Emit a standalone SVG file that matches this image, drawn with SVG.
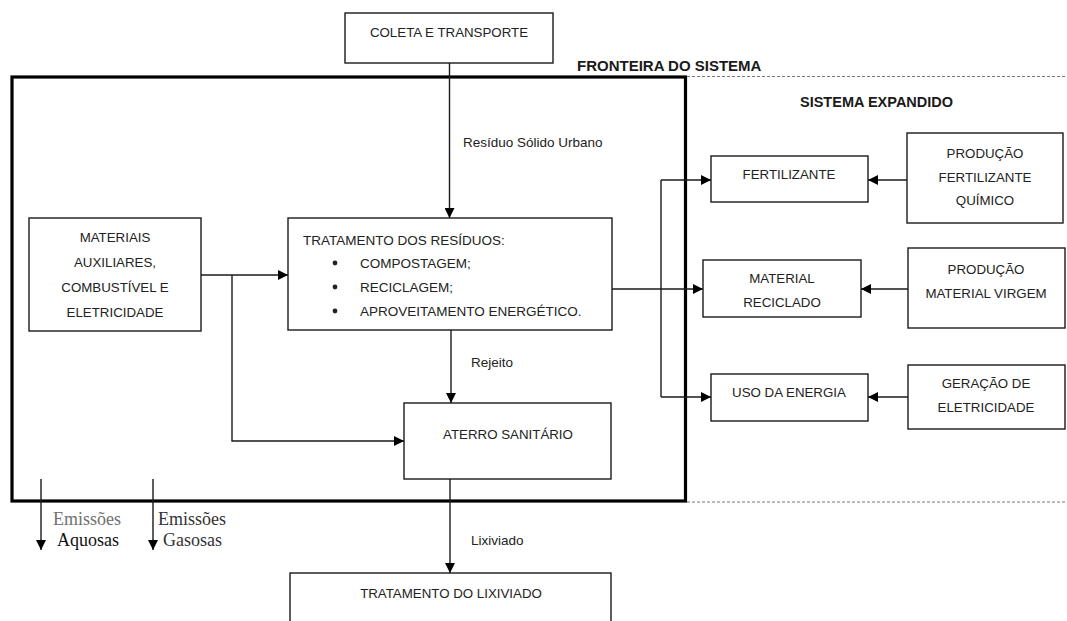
<svg xmlns="http://www.w3.org/2000/svg" width="1067" height="621" viewBox="0 0 1067 621">
  <style>
    .box { fill: #ffffff; stroke: #1a1a1a; stroke-width: 1.4; }
    .lbl { font-family: "Liberation Sans", Arial, sans-serif; font-size: 13.3px; fill: #222222; text-anchor: middle; }
    .lbl-l { font-family: "Liberation Sans", Arial, sans-serif; font-size: 13.5px; fill: #222222; }
    .edge-lbl { font-family: "Liberation Sans", Arial, sans-serif; font-size: 13.5px; fill: #222222; }
    .title { font-family: "Liberation Sans", Arial, sans-serif; font-weight: bold; fill: #1a1a1a; }
    .serif { font-family: "Liberation Serif", "Times New Roman", serif; font-size: 18px; }
    .wire { fill: none; stroke: #1a1a1a; stroke-width: 1.4; }
    .arrow { fill: none; stroke: #1a1a1a; stroke-width: 1.4; marker-end: url(#head); }
    .boundary { fill: none; stroke: #000000; stroke-width: 3.2; }
    .dash { fill: none; stroke: #777777; stroke-width: 1; stroke-dasharray: 3 2; }
  </style>
  <defs>
    <marker id="head" markerUnits="userSpaceOnUse" markerWidth="11" markerHeight="10" refX="10" refY="5" orient="auto">
      <path d="M0,0 L10,5 L0,10 Z" fill="#000000"/>
    </marker>
  </defs>

  <rect width="1067" height="621" fill="#ffffff"/>

  <!-- system boundary and expanded-system dashed limits -->
  <g id="boundary">
    <rect class="boundary" x="12" y="77" width="673.5" height="424"/>
    <line class="dash" x1="687" y1="76.5" x2="1067" y2="76.5"/>
    <line class="dash" x1="687" y1="502" x2="1067" y2="502"/>
    <text class="title" x="577" y="71" font-size="15">FRONTEIRA DO SISTEMA</text>
    <text class="title" x="800" y="107" font-size="14.5">SISTEMA EXPANDIDO</text>
  </g>

  <!-- connectors -->
  <g id="connectors">
    <line class="arrow" x1="449.5" y1="63" x2="449.5" y2="218"/>
    <line class="arrow" x1="201" y1="275" x2="288" y2="275"/>
    <polyline class="arrow" points="232,275 232,441 404,441"/>
    <line class="arrow" x1="451" y1="330" x2="451" y2="403"/>
    <line class="arrow" x1="450" y1="479" x2="450" y2="573"/>
    <line class="arrow" x1="612" y1="289" x2="703" y2="289"/>
    <line class="wire" x1="661" y1="180" x2="661" y2="397"/>
    <line class="arrow" x1="661" y1="180" x2="711" y2="180"/>
    <line class="arrow" x1="661" y1="397" x2="711" y2="397"/>
    <line class="arrow" x1="907" y1="180" x2="868" y2="180"/>
    <line class="arrow" x1="908" y1="289" x2="861" y2="289"/>
    <line class="arrow" x1="908" y1="397" x2="868" y2="397"/>
    <line class="arrow" x1="41" y1="479" x2="41" y2="550"/>
    <line class="arrow" x1="153" y1="479" x2="153" y2="550"/>
    <text class="edge-lbl" x="463" y="147">Resíduo Sólido Urbano</text>
    <text class="edge-lbl" x="471" y="367">Rejeito</text>
    <text class="edge-lbl" x="471" y="545">Lixiviado</text>
    <text class="serif" x="53" y="525" fill="#707070">Emissões</text>
    <text class="serif" x="57" y="546" fill="#111111">Aquosas</text>
    <text class="serif" x="158" y="525" fill="#333333">Emissões</text>
    <text class="serif" x="163" y="546" fill="#333333">Gasosas</text>
  </g>

  <g id="coleta">
    <rect class="box" x="345" y="13" width="208" height="50"/>
    <text class="lbl" x="449" y="37">COLETA E TRANSPORTE</text>
  </g>

  <g id="materiais">
    <rect class="box" x="29" y="218" width="172" height="113"/>
    <text class="lbl" x="115" y="242">MATERIAIS</text>
    <text class="lbl" x="115" y="267">AUXILIARES,</text>
    <text class="lbl" x="115" y="292">COMBUSTÍVEL E</text>
    <text class="lbl" x="115" y="317">ELETRICIDADE</text>
  </g>

  <g id="tratamento">
    <rect class="box" x="288" y="218" width="324" height="112"/>
    <text class="lbl-l" x="303" y="245">TRATAMENTO DOS RESÍDUOS:</text>
    <circle cx="335" cy="263" r="2.4" fill="#222222"/>
    <circle cx="335" cy="287" r="2.4" fill="#222222"/>
    <circle cx="335" cy="311" r="2.4" fill="#222222"/>
    <text class="lbl-l" x="360" y="268">COMPOSTAGEM;</text>
    <text class="lbl-l" x="360" y="292">RECICLAGEM;</text>
    <text class="lbl-l" x="360" y="316">APROVEITAMENTO ENERGÉTICO.</text>
  </g>

  <g id="aterro">
    <rect class="box" x="404" y="403" width="207" height="76"/>
    <text class="lbl" x="508" y="439">ATERRO SANITÁRIO</text>
  </g>

  <g id="tratamento-lixiviado">
    <rect class="box" x="290" y="573" width="321" height="70"/>
    <text class="lbl" x="451" y="598">TRATAMENTO DO LIXIVIADO</text>
  </g>

  <g id="fertilizante">
    <rect class="box" x="711" y="156" width="157" height="46"/>
    <text class="lbl" x="789" y="179">FERTILIZANTE</text>
  </g>

  <g id="producao-fertilizante">
    <rect class="box" x="907" y="133" width="156" height="90"/>
    <text class="lbl" x="985" y="158">PRODUÇÃO</text>
    <text class="lbl" x="985" y="182">FERTILIZANTE</text>
    <text class="lbl" x="985" y="205">QUÍMICO</text>
  </g>

  <g id="material-reciclado">
    <rect class="box" x="703" y="260" width="158" height="57"/>
    <text class="lbl" x="782" y="283">MATERIAL</text>
    <text class="lbl" x="782" y="307">RECICLADO</text>
  </g>

  <g id="producao-material">
    <rect class="box" x="908" y="248" width="157" height="80"/>
    <text class="lbl" x="986" y="274">PRODUÇÃO</text>
    <text class="lbl" x="986" y="298">MATERIAL VIRGEM</text>
  </g>

  <g id="uso-energia">
    <rect class="box" x="711" y="374" width="157" height="47"/>
    <text class="lbl" x="789" y="397">USO DA ENERGIA</text>
  </g>

  <g id="geracao-eletricidade">
    <rect class="box" x="908" y="365" width="157" height="64"/>
    <text class="lbl" x="986" y="388">GERAÇÃO DE</text>
    <text class="lbl" x="986" y="412">ELETRICIDADE</text>
  </g>
</svg>
